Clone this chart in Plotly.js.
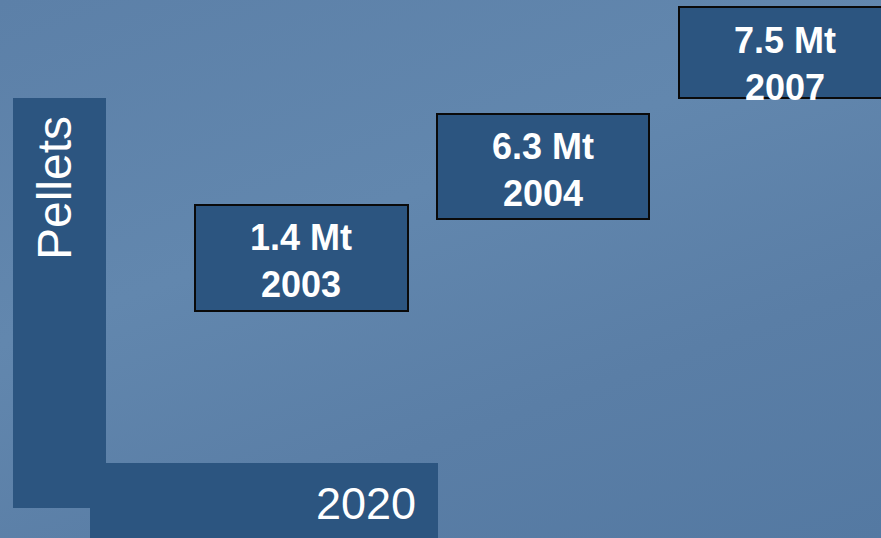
<!DOCTYPE html>
<html>
<head>
<meta charset="utf-8">
<script src="https://cdn.plot.ly/plotly-3.0.1.min.js"></script>
<style>
  html, body { margin: 0; padding: 0; }
  body {
    width: 881px; height: 538px; overflow: hidden;
    background: linear-gradient(160deg, #5c80a8 0%, #6287ae 40%, #5a7ea6 70%, #5479a2 100%);
  }
  #chart { width: 881px; height: 538px; }
</style>
</head>
<body>
<div id="chart"></div>
<script>
// ---- data ----
const years = [2003, 2004, 2007];
const volumes = [1.4, 6.3, 7.5];
const unit = 'Mt';
const verticalLabel = 'Pellets';
const horizontalLabel = '2020';

// ---- layout (pixel-like coordinates on hidden axes) ----
const boxColor = '#2c5580';
const boxGeom = [
  {x0: 195, x1: 408, y0: 205, y1: 311, tx: 301, ty: 261},
  {x0: 437, x1: 649, y0: 114, y1: 219, tx: 543, ty: 170},
  {x0: 679, x1: 895, y0: 7,   y1: 98,  tx: 785, ty: 64}
];

const shapes = [
  {type: 'rect', xref: 'x', yref: 'y', x0: 13, x1: 106, y0: 98, y1: 508,
   fillcolor: boxColor, line: {width: 0}},
  {type: 'rect', xref: 'x', yref: 'y', x0: 90, x1: 438, y0: 463, y1: 540,
   fillcolor: boxColor, line: {width: 0}}
];
const annotations = [
  {x: 54, y: 188, xref: 'x', yref: 'y', text: verticalLabel, textangle: -90,
   showarrow: false, xanchor: 'center', yanchor: 'middle',
   font: {family: 'Liberation Sans, Arial, sans-serif', size: 48, color: '#ffffff'}},
  {x: 418, y: 503, xref: 'x', yref: 'y', text: horizontalLabel,
   showarrow: false, xanchor: 'right', yanchor: 'middle',
   font: {family: 'Liberation Sans, Arial, sans-serif', size: 45, color: '#ffffff'}}
];

years.forEach((yr, i) => {
  const g = boxGeom[i];
  shapes.push({type: 'rect', xref: 'x', yref: 'y', x0: g.x0, x1: g.x1, y0: g.y0, y1: g.y1,
    fillcolor: boxColor, line: {color: '#0a0a0a', width: 2}});
  annotations.push({x: g.tx, y: g.ty, xref: 'x', yref: 'y',
    text: '<b>' + volumes[i].toFixed(1) + ' ' + unit + '</b><br><b>' + yr + '</b>',
    showarrow: false, xanchor: 'center', yanchor: 'middle', align: 'center',
    font: {family: 'Liberation Sans, Arial, sans-serif', size: 36, color: '#ffffff'}});
});

const layout = {
  width: 881, height: 538,
  margin: {l: 0, r: 0, t: 0, b: 0, pad: 0},
  paper_bgcolor: 'rgba(0,0,0,0)',
  plot_bgcolor: 'rgba(0,0,0,0)',
  showlegend: false,
  xaxis: {range: [0, 881], visible: false, fixedrange: true},
  yaxis: {range: [538, 0], visible: false, fixedrange: true},
  shapes: shapes,
  annotations: annotations
};

Plotly.newPlot('chart', [{x: [], y: [], type: 'scatter', hoverinfo: 'skip'}], layout,
  {staticPlot: true, displayModeBar: false});
</script>
</body>
</html>
